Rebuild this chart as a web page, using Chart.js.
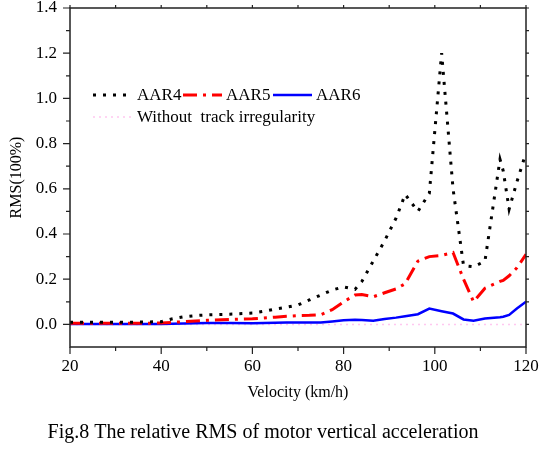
<!DOCTYPE html>
<html>
<head>
<meta charset="utf-8">
<script src="https://cdn.jsdelivr.net/npm/chart.js@4/dist/chart.umd.min.js"></script>
<style>
    body { margin: 0; background: #fff; }
    #wrap { width: 546px; height: 455px; }
</style>
</head>
<body>
<div id="wrap"><canvas id="rmsChart" width="546" height="455"></canvas></div>
<script>
// Velocity (km/h) sample points
const velocity = [20, 25, 30, 35, 40, 42.5, 45, 47.5, 50, 55, 60, 62.5, 65, 67.5, 70, 72.5, 75, 77.5, 80, 82.5,
    84, 86.5, 89, 91.5, 93.5, 96.3, 98.8, 101.5, 104, 106.3, 108.5, 111, 114.3, 115, 116.3, 118, 120];

// relative RMS values per series
const aar4 = [0.010, 0.010, 0.010, 0.010, 0.012, 0.025, 0.034, 0.039, 0.042, 0.045, 0.050, 0.058, 0.068, 0.076, 0.086, 0.108, 0.130, 0.152, 0.166, 0.155,
    0.190, 0.280, 0.370, 0.470, 0.575, 0.500, 0.580, 1.200, 0.600, 0.260, 0.255, 0.280, 0.730, 0.680, 0.510, 0.630, 0.760];
const aar5 = [0.005, 0.005, 0.005, 0.005, 0.006, 0.009, 0.012, 0.015, 0.018, 0.022, 0.025, 0.028, 0.032, 0.036, 0.039, 0.040, 0.043, 0.065, 0.100, 0.130,
    0.132, 0.122, 0.140, 0.157, 0.180, 0.280, 0.300, 0.305, 0.318, 0.200, 0.100, 0.160, 0.190, 0.195, 0.215, 0.250, 0.310];
const aar6 = [0.002, 0.002, 0.002, 0.002, 0.002, 0.003, 0.004, 0.005, 0.006, 0.006, 0.005, 0.006, 0.007, 0.008, 0.008, 0.008, 0.008, 0.013, 0.018, 0.021,
    0.020, 0.016, 0.024, 0.030, 0.036, 0.045, 0.070, 0.058, 0.048, 0.022, 0.016, 0.026, 0.032, 0.034, 0.042, 0.070, 0.100];

// reference line without track irregularity
const baseVelocity = [20, 120];
const baseline = [0, 0];

const xTicks = [20, 40, 60, 80, 100, 120];
const yTicks = [0.0, 0.2, 0.4, 0.6, 0.8, 1.0, 1.2, 1.4];

const toPoints = (xs, ys) => xs.map((v, i) => ({ x: v, y: ys[i] }));

Chart.defaults.font.family = '"Liberation Serif", "Times New Roman", serif';
Chart.defaults.color = "#000";

// frame + outward tick marks, drawn off the library's scales
const framePlugin = {
    id: "frame",
    afterDatasetsDraw(chart) {
        const { ctx, chartArea: a, scales } = chart;
        const xs = scales.x, ys = scales.y;
        ctx.save();
        ctx.strokeStyle = "#222";
        ctx.lineWidth = 1.5;
        ctx.strokeRect(a.left, a.top, a.right - a.left, a.bottom - a.top);
        ctx.lineWidth = 1.2;
        ctx.beginPath();
        for (let v = 20; v <= 120; v += 10) {
            const px = xs.getPixelForValue(v);
            const major = v % 20 === 0;
            ctx.moveTo(px, a.bottom);
            ctx.lineTo(px, a.bottom + (major ? 7 : 4));
            ctx.moveTo(px, a.top);
            ctx.lineTo(px, a.top - 3);
        }
        for (let k = 0; k <= 14; k++) {
            const py = ys.getPixelForValue(k / 10);
            const major = k % 2 === 0;
            ctx.moveTo(a.left, py);
            ctx.lineTo(a.left - (major ? 7 : 4), py);
            ctx.moveTo(a.right, py);
            ctx.lineTo(a.right + 3, py);
        }
        ctx.stroke();
        ctx.restore();
    },
};

// legend laid out like the figure: three items on one row, the fourth below
const legendSlots = [
    { x0: 93, x1: 130, tx: 137, y: 95 },
    { x0: 183, x1: 222, tx: 226, y: 95 },
    { x0: 273, x1: 312, tx: 316, y: 95 },
    { x0: 93, x1: 132, tx: 137, y: 117 },
];
const legendPlugin = {
    id: "inlineLegend",
    afterDraw(chart) {
        const { ctx } = chart;
        ctx.save();
        ctx.font = '17px "Liberation Serif", "Times New Roman", serif';
        ctx.textBaseline = "middle";
        ctx.fillStyle = "#000";
        chart.data.datasets.forEach((ds, i) => {
            const s = legendSlots[i];
            ctx.strokeStyle = ds.borderColor;
            ctx.lineWidth = ds.borderWidth;
            ctx.setLineDash(ds.borderDash || []);
            ctx.beginPath();
            ctx.moveTo(s.x0, s.y);
            ctx.lineTo(s.x1, s.y);
            ctx.stroke();
            ctx.setLineDash([]);
            ctx.fillText(ds.label, s.tx, s.y + 1);
        });
        ctx.restore();
    },
};

new Chart(document.getElementById("rmsChart"), {
    type: "line",
    data: {
        datasets: [
            {
                label: "AAR4",
                data: toPoints(velocity, aar4),
                borderColor: "#000",
                borderWidth: 3,
                borderDash: [3, 7],
            },
            {
                label: "AAR5",
                data: toPoints(velocity, aar5),
                borderColor: "#ff0000",
                borderWidth: 3,
                borderDash: [14, 6, 3, 6],
            },
            {
                label: "AAR6",
                data: toPoints(velocity, aar6),
                borderColor: "#0000ff",
                borderWidth: 2.5,
            },
            {
                label: "Without  track irregularity",
                data: toPoints(baseVelocity, baseline),
                borderColor: "#ffc8f0",
                borderWidth: 1.5,
                borderDash: [2, 4],
            },
        ],
    },
    options: {
        responsive: false,
        animation: false,
        layout: { padding: { top: 8, right: 20, left: 0, bottom: 0 } },
        elements: { point: { radius: 0 }, line: { tension: 0, fill: false } },
        scales: {
            x: {
                type: "linear",
                min: 20,
                max: 120,
                afterBuildTicks: (s) => { s.ticks = xTicks.map((v) => ({ value: v })); },
                afterFit: (s) => { s.height = 74; s.paddingLeft = 0; s.paddingRight = 0; },
                grid: { display: false, drawTicks: false },
                border: { display: false },
                ticks: { font: { size: 17 }, padding: 9, maxRotation: 0 },
                title: {
                    display: true,
                    text: "Velocity (km/h)",
                    font: { size: 16 },
                    padding: { top: 0, bottom: 19 },
                },
            },
            y: {
                min: -0.1,
                max: 1.4,
                afterBuildTicks: (s) => { s.ticks = yTicks.map((v) => ({ value: v })); },
                afterFit: (s) => { s.width = 70; s.paddingTop = 0; s.paddingBottom = 0; },
                grid: { display: false, drawTicks: false },
                border: { display: false },
                ticks: {
                    font: { size: 17 },
                    padding: 13,
                    callback: (v) => Number(v).toFixed(1),
                },
                title: {
                    display: true,
                    text: "RMS(100%)",
                    font: { size: 16 },
                    padding: { top: 7, bottom: 0 },
                },
            },
        },
        plugins: {
            legend: { display: false },
            tooltip: { enabled: false },
            title: {
                display: true,
                position: "bottom",
                text: "Fig.8 The relative RMS of motor vertical acceleration",
                font: { size: 20, weight: "normal" },
                color: "#000",
                padding: { top: 0, bottom: 10 },
            },
        },
    },
    plugins: [framePlugin, legendPlugin],
});
</script>
</body>
</html>
